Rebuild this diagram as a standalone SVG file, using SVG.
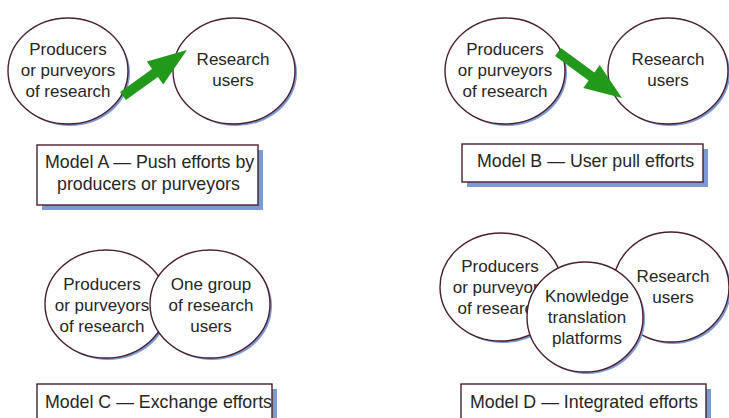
<svg xmlns="http://www.w3.org/2000/svg" width="729" height="418" viewBox="0 0 729 418">
<style>
.sh{fill:#7d99d2;stroke:none}
.el{fill:#fff;stroke:#4a1f2e;stroke-width:1.4}
.bx{fill:#fff;stroke:#4a1f2e;stroke-width:1.4}
.t{font-family:"Liberation Sans",Arial,sans-serif;font-size:17px;fill:#262626;text-anchor:middle}
.tl{font-family:"Liberation Sans",Arial,sans-serif;font-size:17.8px;fill:#262626}
.ar{fill:#22991a}
</style>
<rect width="729" height="418" fill="#fff"/>
<g id="a-producers">
<ellipse class="sh" cx="70" cy="73" rx="60" ry="53"/>
<ellipse class="el" cx="68" cy="71" rx="60" ry="53"/>
<text class="t" x="68" y="55">Producers</text>
<text class="t" x="68" y="76">or purveyors</text>
<text class="t" x="68" y="97">of research</text>
</g>
<g id="a-users">
<ellipse class="sh" cx="236" cy="73" rx="61" ry="53"/>
<ellipse class="el" cx="234" cy="71" rx="61" ry="53"/>
<text class="t" x="233" y="65">Research</text>
<text class="t" x="233" y="86">users</text>
</g>
<g id="a-label">
<rect class="sh" x="42" y="150" width="221" height="60"/>
<rect class="bx" x="37" y="145" width="221" height="60"/>
<text class="tl" x="45" y="168">Model A — Push efforts by</text>
<text class="tl" x="57" y="190">producers or purveyors</text>
</g>
<g id="b-producers">
<ellipse class="sh" cx="507" cy="73" rx="60" ry="53"/>
<ellipse class="el" cx="505" cy="71" rx="60" ry="53"/>
<text class="t" x="505" y="55">Producers</text>
<text class="t" x="505" y="76">or purveyors</text>
<text class="t" x="505" y="97">of research</text>
</g>
<g id="b-users">
<ellipse class="sh" cx="670" cy="73" rx="60" ry="53"/>
<ellipse class="el" cx="668" cy="71" rx="60" ry="53"/>
<text class="t" x="668" y="65">Research</text>
<text class="t" x="668" y="86">users</text>
</g>
<g id="b-label">
<rect class="sh" x="467" y="149" width="241" height="38"/>
<rect class="bx" x="462" y="144" width="241" height="38"/>
<text class="tl" x="477" y="167">Model B — User pull efforts</text>
</g>
<g id="c-producers">
<ellipse class="sh" cx="108" cy="306" rx="61" ry="54"/>
<ellipse class="el" cx="106" cy="304" rx="61" ry="54"/>
</g>
<g id="c-users">
<ellipse class="sh" cx="212" cy="306" rx="60" ry="54"/>
<ellipse class="el" cx="210" cy="304" rx="60" ry="54"/>
<text class="t" x="211" y="290">One group</text>
<text class="t" x="211" y="311">of research</text>
<text class="t" x="211" y="332">users</text>
</g>
<g id="c-producers-text">
<text class="t" x="102" y="290">Producers</text>
<text class="t" x="102" y="311">or purveyors</text>
<text class="t" x="102" y="332">of research</text>
</g>
<g id="c-label">
<rect class="sh" x="42" y="389" width="235" height="40"/>
<rect class="bx" x="37" y="384" width="235" height="40"/>
<text class="tl" x="45" y="408">Model C — Exchange efforts</text>
</g>
<g id="d-producers">
<ellipse class="sh" cx="503" cy="289" rx="61" ry="54"/>
<ellipse class="el" cx="501" cy="287" rx="61" ry="54"/>
<text class="t" x="500" y="272">Producers</text>
<text class="t" x="500" y="293">or purveyors</text>
<text class="t" x="500" y="314">of research</text>
</g>
<g id="d-users">
<ellipse class="sh" cx="673" cy="289" rx="58" ry="55"/>
<ellipse class="el" cx="671" cy="287" rx="58" ry="55"/>
<text class="t" x="673" y="282">Research</text>
<text class="t" x="673" y="303">users</text>
</g>
<g id="d-platforms">
<ellipse class="sh" cx="587" cy="319" rx="58" ry="55"/>
<ellipse class="el" cx="585" cy="317" rx="58" ry="55"/>
<text class="t" x="587" y="302">Knowledge</text>
<text class="t" x="587" y="323">translation</text>
<text class="t" x="587" y="344">platforms</text>
</g>
<g id="d-label">
<rect class="sh" x="466" y="389" width="245" height="40"/>
<rect class="bx" x="461" y="384" width="245" height="40"/>
<text class="tl" x="470" y="408">Model D — Integrated efforts</text>
</g>
<g id="connectors">
<polygon class="ar" points="120.1,91.9 152.1,68.9 146.8,61.6 187,50 163.2,84.4 157.9,77.1 125.9,100.1"/>
<polygon class="ar" points="560.9,47.9 594.4,72.4 599.7,65.1 622,98 583.3,87.9 588.6,80.5 555.1,56.1"/>
</g>
</svg>
